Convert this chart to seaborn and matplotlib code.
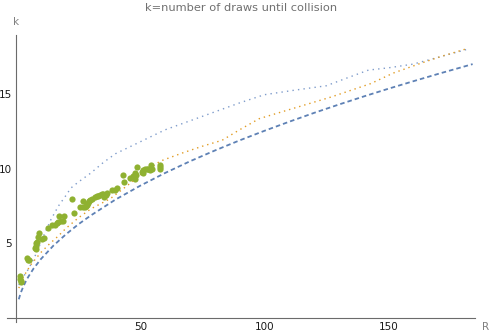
import matplotlib
matplotlib.use("Agg")
import matplotlib.pyplot as plt
from matplotlib.ticker import MultipleLocator, FixedLocator
import seaborn as sns
import pandas as pd

# Expected draws sqrt(pi R / 2), read along R
expected_R = [1, 1.5, 2, 3, 4, 5, 7, 10, 15, 20, 25, 30, 40, 50, 60, 70, 80,
              90, 100, 110, 120, 130, 140, 150, 160, 170, 184]
expected_k = [1.25, 1.53, 1.77, 2.17, 2.51, 2.8, 3.32, 3.96, 4.85, 5.6, 6.27,
              6.86, 7.93, 8.86, 9.71, 10.49, 11.21, 11.89, 12.53, 13.14,
              13.73, 14.29, 14.83, 15.35, 15.85, 16.34, 17.0]

# Upper bound curve (dotted blue)
upper_R = [1, 3, 5, 8, 11, 14, 17, 20, 22, 25, 30, 35, 40, 50, 60, 70, 80, 90,
           100, 112, 125, 133, 142, 150, 160, 170, 182]
upper_k = [2.2, 2.8, 3.3, 4.3, 5.5, 6.6, 7.5, 8.2, 8.7, 9.1, 9.7, 10.4, 11.0,
           11.8, 12.6, 13.2, 13.8, 14.4, 14.95, 15.25, 15.55, 16.05, 16.6,
           16.75, 17.0, 17.45, 18.0]

# Median-type curve (dotted orange)
median_R = [1, 3, 6, 10, 13, 17, 20, 25, 30, 38, 45, 51, 58, 67, 75, 83, 90,
            98, 108, 118, 127, 135, 143, 152, 163, 172, 181]
median_k = [2.0, 2.8, 3.6, 4.4, 4.9, 5.5, 6.0, 6.7, 7.3, 8.0, 8.9, 9.7, 10.5,
            11.05, 11.5, 11.9, 12.6, 13.35, 13.85, 14.35, 14.8, 15.25, 15.7,
            16.4, 17.05, 17.55, 18.0]

# Simulated average number of draws (green points)
sim_R = [1.5, 1.6, 1.8, 1.7, 4.2, 4.7, 5.2, 7.8, 7.9, 8.1, 8.3, 7.7, 8.9, 9.3,
         10.2, 11.3, 12.7, 14.5, 15.6, 16.3, 16.9, 17.2, 18.0, 18.7, 19.2,
         22.3, 23.3, 25.7, 27.0, 27.7, 26.8, 28.1, 28.6, 29.0, 29.4, 29.7,
         30.4, 31.7, 32.4, 33.1, 33.75, 34.4, 35.1, 36.2, 35.4, 36.5, 38.5,
         39.8, 40.5, 42.9, 43.4, 45.8, 46.9, 47.9, 48.3, 47.9, 48.5, 50.6,
         51.0, 51.2, 51.9, 52.6, 53.2, 53.9, 54.6, 54.2, 57.9, 57.9, 57.9]
sim_k = [2.8, 2.6, 2.5, 2.4, 4.0, 3.9, 3.85, 4.6, 4.8, 5.0, 5.1, 4.7, 5.4, 5.7,
         5.3, 5.35, 6.0, 6.2, 6.2, 6.35, 6.45, 6.8, 6.5, 6.5, 6.8,
         8.0, 7.05, 7.4, 7.4, 7.45, 7.8, 7.5, 7.55, 7.7, 7.8, 7.9,
         8.0, 8.1, 8.15, 8.2, 8.25, 8.3, 8.3, 8.25, 8.1, 8.35, 8.6,
         8.6, 8.7, 9.6, 9.1, 9.35, 9.5, 9.7, 9.6, 9.3, 10.1, 9.8,
         9.7, 9.9, 9.95, 10.0, 10.0, 9.9, 9.95, 10.25, 10.25, 10.1, 10.0]

BLUE = "#5E81B5"
LIGHT_BLUE = "#7f9ccb"
ORANGE = "#E19C24"
GREEN = "#8FB131"
AXIS = "#6b6b6b"

sns.set_style("white")
plt.rcParams["font.family"] = ["DejaVu Sans"]

W, H = 491, 335
fig = plt.figure(figsize=(W / 100, H / 100), dpi=100)
ax = fig.add_axes([7 / W, (H - 322) / H, (475 - 7) / W, (322 - 35) / H])

expected = pd.DataFrame({"R": expected_R, "k": expected_k})
upper = pd.DataFrame({"R": upper_R, "k": upper_k})
median = pd.DataFrame({"R": median_R, "k": median_k})
sim = pd.DataFrame({"R": sim_R, "k": sim_k})

sns.lineplot(data=upper, x="R", y="k", ax=ax, color=LIGHT_BLUE, lw=1.0,
             sort=False, estimator=None)
ax.lines[-1].set_dashes((1, 3))
sns.lineplot(data=median, x="R", y="k", ax=ax, color=ORANGE, lw=1.0,
             sort=False, estimator=None)
ax.lines[-1].set_dashes((1, 2.8))
sns.lineplot(data=expected, x="R", y="k", ax=ax, color=BLUE, lw=1.3,
             sort=False, estimator=None)
ax.lines[-1].set_dashes((2.5, 1.7))
sns.scatterplot(data=sim, x="R", y="k", ax=ax, color=GREEN, s=20,
                linewidth=0, zorder=3)

ax.set_xlim(-3.75, 184.96)
ax.set_ylim(-0.27, 18.95)

for side in ("top", "right"):
    ax.spines[side].set_visible(False)
ax.spines["left"].set_position(("data", 0))
ax.spines["bottom"].set_position(("data", 0))
for side in ("left", "bottom"):
    ax.spines[side].set_color(AXIS)
    ax.spines[side].set_linewidth(0.8)

ax.xaxis.set_major_locator(FixedLocator([50, 100, 150]))
ax.xaxis.set_minor_locator(FixedLocator([v for v in range(10, 190, 10) if v % 50]))
ax.yaxis.set_major_locator(FixedLocator([5, 10, 15]))
ax.yaxis.set_minor_locator(FixedLocator([v for v in range(1, 19) if v % 5]))
ax.tick_params(which="both", direction="in", colors=AXIS, labelcolor="#1a1a1a",
               labelsize=7.5, pad=3)
ax.tick_params(which="major", length=3.3, width=0.8)
ax.tick_params(which="minor", length=1.9, width=0.7)

ax.set_xlabel("")
ax.set_ylabel("")
fig.text(486 / W, 1 - 327 / H, "R", color="#808080", fontsize=7.5,
         ha="center", va="center")
fig.text(16 / W, 1 - 22 / H, "k", color="#808080", fontsize=7.5,
         ha="center", va="center")
fig.text(241 / W, 1 - 8 / H, "k=number of draws until collision",
         color="#707070", fontsize=8.2, ha="center", va="center")

fig.savefig("out.png", dpi=100)
